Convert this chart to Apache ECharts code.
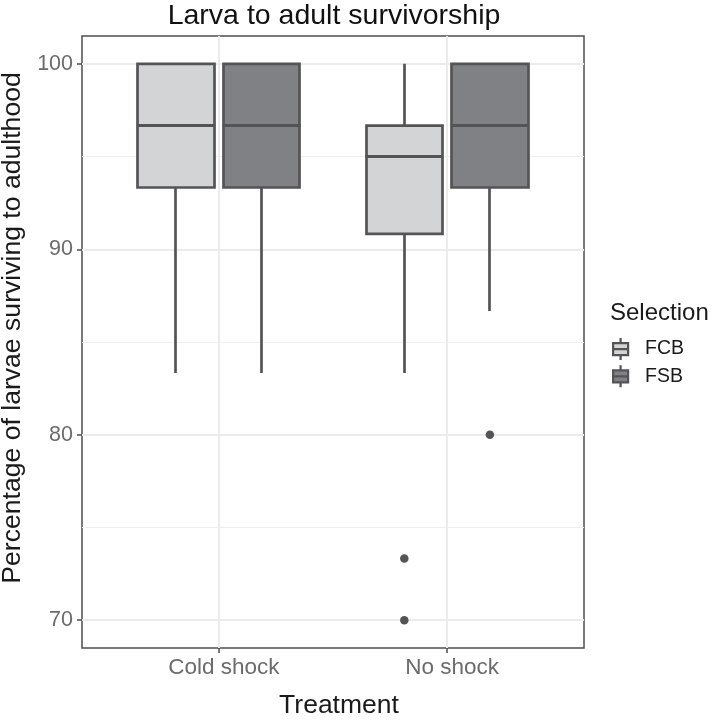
<!DOCTYPE html>
<html>
<head>
<meta charset="utf-8">
<script src="https://cdn.jsdelivr.net/npm/echarts@6/dist/echarts.min.js"></script>
<style>
html,body{margin:0;padding:0;background:#fff;}
#chart{width:712px;height:720px;}
</style>
</head>
<body>
<div id="chart"></div>
<script>
// ---- data ----
const treatments = ['Cold shock', 'No shock'];
const selections = ['FCB', 'FSB'];
const yTicks = [70, 80, 90, 100];
const yMinorTicks = [75, 85, 95];
// [min whisker, Q1, median, Q3, max whisker] per treatment
const fcbStats = [
  [83.33, 93.33, 96.67, 100, 100],
  [83.33, 90.83, 95.0, 96.67, 100]
];
const fsbStats = [
  [83.33, 93.33, 96.67, 100, 100],
  [86.67, 93.33, 96.67, 100, 100]
];
// outliers: [treatment index (1-based), value]
const fcbOutliers = [[2, 73.33], [2, 70]];
const fsbOutliers = [[2, 80]];

const fillColors = {FCB: '#d3d4d6', FSB: '#808184'};
const lineColor = '#545457';
const FONT = '"Liberation Sans", Arial, Helvetica, sans-serif';
const dodge = 0.1875;
const boxPx = 77;

function candleData(stats) {
  // candlestick: [x, open(Q1), close(Q3), lowest(min), highest(max)]
  return stats.map((s, i) => [i + 1, s[1], s[3], s[0], s[4]]);
}
function medianData(stats) {
  return stats.map((s, i) => [i + 1, s[2]]);
}

const chart = echarts.init(document.getElementById('chart'), null, {renderer: 'canvas'});

const boxIcon = 'path://M7.5,0L7.5,5M0,5L15,5L15,17L0,17ZM0,11L15,11M7.5,17L7.5,22';

const option = {
  animation: false,
  backgroundColor: '#ffffff',
  textStyle: {fontFamily: FONT},
  title: [
    {
      text: 'Larva to adult survivorship',
      left: 334, top: 2, padding: 0,
      textAlign: 'center',
      textStyle: {fontSize: 28.5, fontWeight: 'normal', color: '#111111', fontFamily: FONT}
    },
    {
      text: 'Selection',
      left: 610, top: 301, padding: 0,
      textStyle: {fontSize: 24, fontWeight: 'normal', color: '#1a1a1a', fontFamily: FONT}
    }
  ],
  legend: {
    orient: 'vertical',
    left: 612, top: 337, padding: 0,
    itemWidth: 15, itemHeight: 22, itemGap: 3,
    textStyle: {fontSize: 19.5, color: '#1a1a1a', fontFamily: FONT, padding: [0, 0, 0, 12]},
    data: selections.map(s => ({
      name: s,
      icon: boxIcon,
      itemStyle: {color: fillColors[s], borderColor: lineColor, borderWidth: 2.2}
    }))
  },
  grid: [{
    left: 82, top: 36, width: 502, height: 612,
    outerBoundsMode: 'none', containLabel: false,
    show: true, borderColor: '#4d4d4d', borderWidth: 1.5, backgroundColor: 'transparent'
  }],
  xAxis: [
    {
      type: 'value', gridIndex: 0, min: 0.4, max: 2.6,
      name: 'Treatment', nameLocation: 'middle', nameGap: 44,
      nameTextStyle: {fontSize: 26.5, color: '#1a1a1a', fontFamily: FONT, padding: [0, 0, 0, 12]},
      axisLine: {show: false},
      axisTick: {show: true, customValues: [1, 2], length: 5, lineStyle: {color: '#4d4d4d', width: 1.5}},
      axisLabel: {
        customValues: [1, 2], margin: 8, fontSize: 22.5, color: '#6b6b6b', fontFamily: FONT,
        padding: [0, 0, 0, 10],
        formatter: v => treatments[Math.round(v) - 1]
      },
      splitLine: {show: true, lineStyle: {color: '#ebebeb', width: 2}}
    },
    {type: 'value', gridIndex: 0, min: 0.4 + dodge, max: 2.6 + dodge, show: false},
    {type: 'value', gridIndex: 0, min: 0.4 - dodge, max: 2.6 - dodge, show: false}
  ],
  yAxis: [
    {
      type: 'value', gridIndex: 0, min: 68.5, max: 101.5,
      name: 'Percentage of larvae surviving to adulthood', nameLocation: 'middle', nameGap: 52,
      nameTextStyle: {fontSize: 26.6, color: '#1a1a1a', fontFamily: FONT, padding: [0, 0, 0, 28]},
      axisLine: {show: false},
      axisTick: {show: true, customValues: yTicks, length: 5, lineStyle: {color: '#4d4d4d', width: 1.5}},
      axisLabel: {customValues: yTicks, margin: 9, fontSize: 21.5, color: '#6b6b6b', fontFamily: FONT},
      splitLine: {show: true, lineStyle: {color: '#ebebeb', width: 2}}
    },
    {
      type: 'value', gridIndex: 0, min: 68.5, max: 101.5, position: 'right',
      axisLine: {show: false},
      axisTick: {show: false, customValues: yMinorTicks},
      axisLabel: {show: false, customValues: yMinorTicks},
      splitLine: {show: true, lineStyle: {color: '#efefef', width: 1.2}}
    }
  ],
  series: [
    {
      type: 'candlestick', name: 'FCB', xAxisIndex: 1, yAxisIndex: 0,
      barWidth: boxPx, data: candleData(fcbStats),
      itemStyle: {color: fillColors.FCB, color0: fillColors.FCB, borderColor: lineColor, borderColor0: lineColor, borderWidth: 2.7}
    },
    {
      type: 'candlestick', name: 'FSB', xAxisIndex: 2, yAxisIndex: 0,
      barWidth: boxPx, data: candleData(fsbStats),
      itemStyle: {color: fillColors.FSB, color0: fillColors.FSB, borderColor: lineColor, borderColor0: lineColor, borderWidth: 2.7}
    },
    {
      type: 'scatter', name: 'FCB', xAxisIndex: 1, yAxisIndex: 0, z: 5,
      symbol: 'rect', symbolSize: [boxPx + 1, 3], data: medianData(fcbStats),
      itemStyle: {color: lineColor, opacity: 1}
    },
    {
      type: 'scatter', name: 'FSB', xAxisIndex: 2, yAxisIndex: 0, z: 5,
      symbol: 'rect', symbolSize: [boxPx + 1, 3], data: medianData(fsbStats),
      itemStyle: {color: lineColor, opacity: 1}
    },
    {
      type: 'scatter', name: 'FCB', xAxisIndex: 1, yAxisIndex: 0, z: 5,
      symbol: 'circle', symbolSize: 8.5, data: fcbOutliers,
      itemStyle: {color: lineColor, opacity: 1}
    },
    {
      type: 'scatter', name: 'FSB', xAxisIndex: 2, yAxisIndex: 0, z: 5,
      symbol: 'circle', symbolSize: 8.5, data: fsbOutliers,
      itemStyle: {color: lineColor, opacity: 1}
    }
  ]
};
chart.setOption(option);
</script>
</body>
</html>
